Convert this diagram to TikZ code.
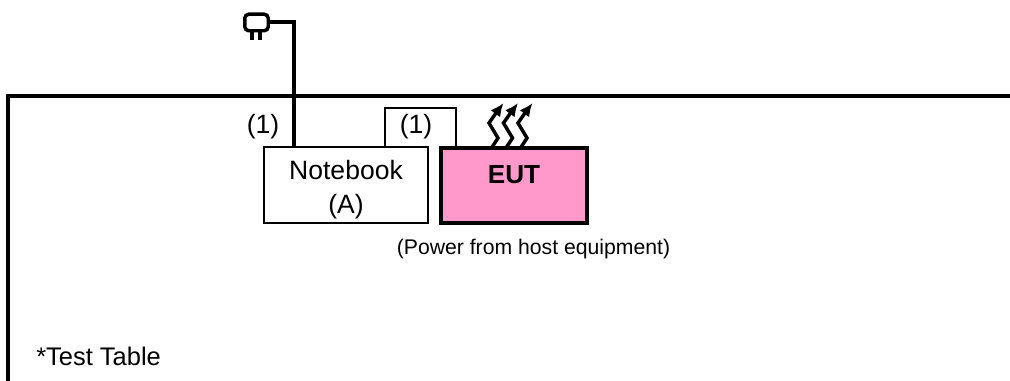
\documentclass[tikz,border=0pt]{standalone}
\usepackage{fontspec}
\setmainfont{Liberation Sans}
\usetikzlibrary{arrows.meta,calc}
\definecolor{EUTPink}{RGB}{255,153,204}
\begin{document}
\begin{tikzpicture}[
        x=0.75pt, y=-0.75pt,
        % --- STYLE CHUNG ---
        label_text/.style={inner sep=0pt, font=\fontsize{19.9}{25.5}\selectfont, align=center},
        small_text/.style={inner sep=0pt, font=\fontsize{15.9}{18}\selectfont},
        table_text/.style={inner sep=0pt, font=\fontsize{19.1}{23}\selectfont},
        % Style hop
        notebook_node/.style={
            rectangle, draw=black, fill=white, line width=1.1pt,
            minimum width=123pt, minimum height=57pt, inner sep=0pt,
            label_text
        },
        eut_node/.style={
            rectangle, draw=black, fill=EUTPink, line width=3pt,
            minimum width=109.5pt, minimum height=56pt, inner sep=0pt,
            text depth=15.8pt,
            font=\fontsize{19.6}{22}\selectfont\bfseries
        },
        plug_node/.style={
            rectangle, rounded corners=3pt, draw=black, fill=white, line width=2.6pt,
            minimum width=17.6pt, minimum height=12.4pt, inner sep=0pt
        },
        % Style duong noi
        table_line/.style={draw=black, line width=3pt},
        power_line/.style={draw=black, line width=3pt},
        plug_line/.style={draw=black, line width=3pt},
        link_line/.style={draw=black, line width=1.1pt},
        heat_line/.style={draw=black, line width=2.6pt, -{Latex[length=10pt,width=9pt]}}
    ]

        \useasboundingbox (0,0) rectangle (1010,381);

        % --- BAN THU ---
        \coordinate (tableBL) at (8,381);
        \coordinate (tableTL) at (8,96);
        \coordinate (tableTR) at (1010,96);
        \draw[table_line] (tableBL) -- (tableTL) -- (tableTR);

        % --- CAC HOP ---
        \node[notebook_node] (notebook) at (346,185) {\rule{0pt}{21.5pt}Notebook\\(A)};
        \node[eut_node] (eut) at (514,185.5) {EUT};
        \node[plug_node] (plug) at (256.5,22.5) {};

        % --- NGUON ---
        \coordinate (powerIn) at (notebook.north -| 294,0);
        \draw[power_line] (plug.east) -| (powerIn);
        \foreach \px in {252.3,260} {
            \draw[plug_line] (plug.south -| \px,0) -- ++(0,8);
        }

        % --- CAP NOI ---
        \coordinate (linkA) at (385,108);
        \coordinate (linkB) at (456,108);
        \draw[link_line] (notebook.north -| linkA) -- (linkA) -- (linkB) -- (eut.north -| linkB);

        % --- MUI TEN NHIET ---
        \foreach \dx in {0,14.5,29} {
            \draw[heat_line] (491.5+\dx,148) -- (498+\dx,138) -- (489+\dx,123) -- (496+\dx,113) -- (503.5+\dx,103);
        }

        % --- NHAN ---
        \node[label_text] (labelA) at (263,127) {(1)};
        \node[label_text] (labelB) at (416,127) {(1)};
        \node[small_text] (powerNote) at (533.5,249) {(Power from host equipment)};
        \node[table_text, anchor=west] (tableNote) at (36,356) {*Test Table};

    \end{tikzpicture}
\end{document}
